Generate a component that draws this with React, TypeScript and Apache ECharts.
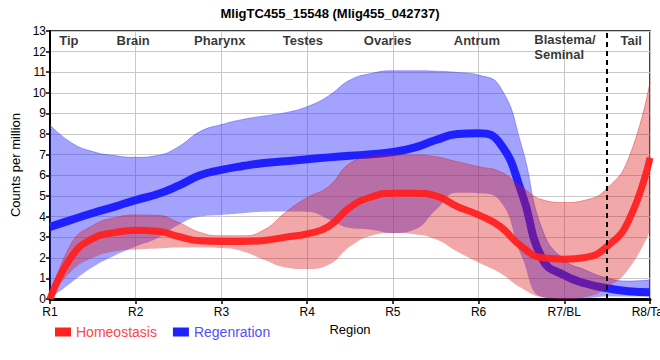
import React, { useEffect, useRef } from "react";
import * as echarts from "echarts";

const regionTicks = ["R1", "R2", "R3", "R4", "R5", "R6", "R7/BL", "R8/Tail"];
const xs = [1, 1.25, 1.5, 1.75, 2, 2.25, 2.5, 2.75, 3, 3.25, 3.5, 3.75, 4, 4.25, 4.5, 4.75, 5, 5.25, 5.5, 5.75, 6, 6.25, 6.5, 6.75, 7, 7.25, 7.5, 7.75, 8];

const homeoMean = [0, 2.05, 2.94, 3.22, 3.33, 3.29, 3.03, 2.82, 2.79, 2.79, 2.84, 3.0, 3.16, 3.52, 4.45, 4.95, 5.13, 5.13, 5.0, 4.49, 4.08, 3.52, 2.55, 2.0, 1.93, 2.02, 2.55, 3.8, 6.85];
const homeoUpper = [0, 2.7, 3.57, 3.94, 4.08, 4.06, 3.71, 3.23, 3.07, 3.07, 3.36, 4.21, 4.92, 5.45, 6.58, 6.9, 6.99, 6.99, 6.9, 6.66, 6.42, 6.18, 5.45, 4.81, 4.68, 4.8, 5.37, 6.83, 10.54];
const homeoLower = [0, 1.35, 2.0, 2.3, 2.4, 2.45, 2.5, 2.5, 2.47, 2.31, 1.9, 1.53, 1.45, 1.66, 2.55, 3.07, 3.2, 3.14, 2.9, 2.31, 1.77, 1.26, 0.53, 0.08, 0, 0.1, 0.55, 1.45, 3.3];

const regenMean = [3.5, 3.84, 4.17, 4.47, 4.8, 5.08, 5.5, 6.0, 6.26, 6.45, 6.6, 6.68, 6.78, 6.87, 6.95, 7.02, 7.13, 7.34, 7.71, 8.0, 8.04, 7.55, 5.2, 1.9, 1.15, 0.75, 0.52, 0.38, 0.33];
const regenUpper = [8.44, 7.58, 7.15, 6.96, 6.87, 6.96, 7.39, 8.12, 8.46, 8.71, 8.88, 9.04, 9.33, 9.85, 10.62, 10.94, 11.07, 11.07, 11.05, 10.99, 10.86, 10.3, 7.45, 3.3, 1.9, 1.4, 1.02, 0.87, 0.92];
const regenLower = [0, 0.8, 1.55, 2.1, 2.55, 2.95, 3.6, 4.0, 4.08, 4.16, 4.23, 4.24, 4.23, 3.87, 3.44, 3.36, 3.2, 3.36, 4.3, 5.15, 5.13, 4.75, 2.1, 0.08, 0, 0.03, 0.12, 0.12, 0.12];

const regionNames = ["Tip", "Brain", "Pharynx", "Testes", "Ovaries", "Antrum", "Blastema/\nSeminal", "Tail"];
const regionX = [1.22, 1.97, 2.98, 3.95, 4.94, 5.98, 6.65, 7.78];
const regionY = [12.56, 12.56, 12.56, 12.56, 12.56, 12.56, 12.2, 12.56];

const dividerX = "7.5";

const FONT = "'Liberation Sans', Arial, sans-serif";

const isMajor = (index: number) => index % 4 === 0;

function band(prefix: string, lower: number[], upper: number[], fill: string, edge: string, z: number) {
  return [
    {
      type: "line",
      name: prefix + "_lo",
      stack: prefix,
      smooth: true,
      symbol: "none",
      silent: true,
      lineStyle: { width: 0, opacity: 0 },
      data: lower.slice(),
      z,
    },
    {
      type: "line",
      name: prefix + "_hi",
      stack: prefix,
      smooth: true,
      symbol: "none",
      silent: true,
      lineStyle: { width: 0.8, color: edge },
      areaStyle: { color: fill, opacity: 1 },
      data: upper.map((u, i) => +(u - lower[i]).toFixed(3)),
      z,
    },
  ];
}

export default function App() {
  const ref = useRef<HTMLDivElement>(null);
  useEffect(() => {
    document.body.style.margin = "0";
    const chart = echarts.init(ref.current!, null, { renderer: "svg" });
    const option: any = {
      animation: false,
      textStyle: { fontFamily: FONT },
      title: {
        text: "MligTC455_15548 (Mlig455_042737)",
        left: "center",
        top: 2,
        textStyle: { fontFamily: FONT, fontSize: 13, fontWeight: "bold", color: "#000" },
      },
      legend: {
        left: 50,
        top: 320,
        icon: "rect",
        itemWidth: 16,
        itemHeight: 9,
        itemGap: 16,
        textStyle: { fontFamily: FONT, fontSize: 14 },
        data: [
          { name: "Homeostasis", textStyle: { color: "#ff4646" } },
          { name: "Regenration", textStyle: { color: "#5050ff" } },
        ],
      },
      grid: {
        left: 50,
        right: 10,
        top: 31,
        bottom: 61,
        outerBoundsMode: "none",
        containLabel: false,
        show: true,
        borderColor: "#000",
        borderWidth: 1.5,
        backgroundColor: "transparent",
      },
      xAxis: [
        {
          type: "category",
          boundaryGap: false,
          data: xs.map(String),
          name: "Region",
          nameLocation: "middle",
          nameGap: 24,
          nameTextStyle: { fontFamily: FONT, fontSize: 13, color: "#000" },
          axisLine: { show: true, onZero: false, lineStyle: { color: "#000", width: 3 } },
          axisTick: { show: true, length: 5, interval: (i: number) => isMajor(i), lineStyle: { color: "#000", width: 1.5 } },
          axisLabel: {
            color: "#000",
            fontSize: 12,
            fontFamily: FONT,
            margin: 7,
            interval: (i: number) => isMajor(i),
            formatter: (v: string) => regionTicks[Math.round(Number(v)) - 1] ?? "",
          },
          splitLine: { show: true, interval: (i: number) => isMajor(i), lineStyle: { color: "#c8c8c8", width: 1 } },
        },
        {
          type: "value",
          min: 1,
          max: 8,
          show: false,
          splitLine: { show: false },
        },
      ],
      yAxis: {
        type: "value",
        min: 0,
        max: 13,
        interval: 1,
        name: "Counts per million",
        nameLocation: "middle",
        nameGap: 19,
        nameTextStyle: { fontFamily: FONT, fontSize: 13, color: "#000" },
        axisLine: { show: true, lineStyle: { color: "#000", width: 2 } },
        axisTick: { show: true, length: 4, lineStyle: { color: "#000", width: 1.5 } },
        axisLabel: { color: "#000", fontSize: 12, fontFamily: FONT, margin: 4 },
        splitLine: { show: true, lineStyle: { color: "#c8c8c8", width: 1 } },
      },
      series: [
        ...band("regenBand", regenLower, regenUpper, "rgba(50,50,250,0.45)", "rgba(50,50,250,0.5)", 1),
        {
          type: "line",
          name: "Regenration",
          smooth: true,
          symbol: "none",
          color: "#2020ff",
          lineStyle: { width: 8, color: "#2020ff" },
          data: regenMean.slice(),
          z: 2,
        },
        ...band("homeoBand", homeoLower, homeoUpper, "rgba(220,20,20,0.37)", "rgba(220,20,20,0.45)", 3),
        {
          type: "line",
          name: "Homeostasis",
          smooth: true,
          symbol: "none",
          color: "#ff2020",
          lineStyle: { width: 7, color: "#ff2020", opacity: 0.95 },
          data: homeoMean.slice(),
          z: 4,
          markLine: {
            silent: true,
            symbol: ["none", "none"],
            label: { show: false },
            lineStyle: { type: [5, 4], color: "#000", width: 2 },
            data: [{ xAxis: dividerX }],
          },
        },
        {
          type: "scatter",
          name: "regions",
          xAxisIndex: 1,
          symbolSize: 0,
          silent: true,
          z: 5,
          label: {
            show: true,
            position: "inside",
            formatter: (p: any) => p.data.name,
            fontFamily: FONT,
            fontSize: 13,
            fontWeight: "bold",
            color: "#000",
            lineHeight: 15,
          },
          data: regionNames.map((n, i) => ({
            name: n,
            value: [regionX[i], regionY[i]],
            label: n.indexOf("\n") >= 0 ? { position: "right", distance: 0, align: "left" } : undefined,
          })),
        },
      ],
    };
    chart.setOption(option);
    return () => chart.dispose();
  }, []);
  return <div ref={ref} style={{ width: 660, height: 360, position: "absolute", left: 0, top: 0 }} />;
}
